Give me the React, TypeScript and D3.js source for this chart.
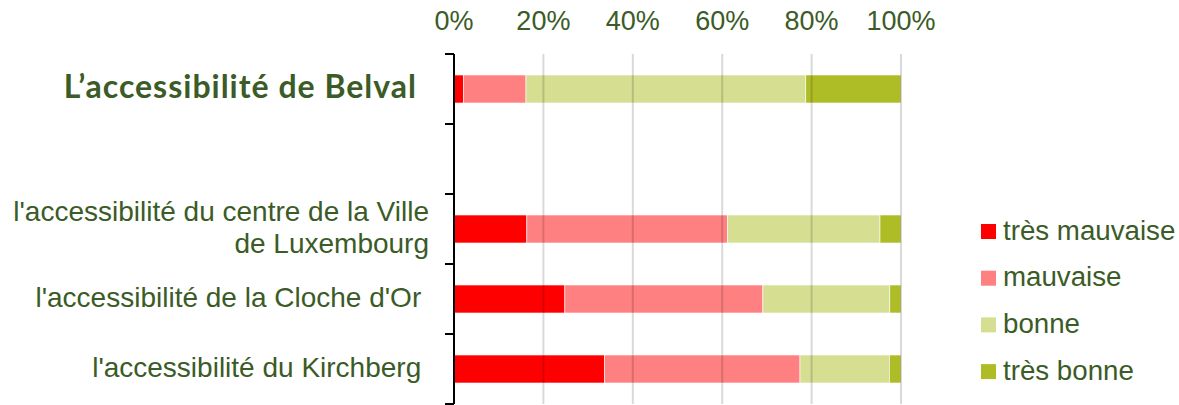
import React from "react";
import * as d3 from "d3";

const categories = ["Belval", "blank", "Centre", "Cloche", "Kirchberg"];
const categoryLabels: string[][] = [
  ["L’accessibilité de Belval"],
  [],
  ["l'accessibilité du centre de la Ville", "de Luxembourg"],
  ["l'accessibilité de la Cloche d'Or "],
  ["l'accessibilité du Kirchberg "],
];
const seriesNames = ["très mauvaise", "mauvaise", "bonne", "très bonne"];
const tresMauvaise = [2.1, 0, 16.3, 24.8, 33.7];
const mauvaise = [14.0, 0, 44.9, 44.3, 43.7];
const bonne = [62.6, 0, 34.1, 28.4, 20.0];
const tresBonne = [21.3, 0, 4.7, 2.5, 2.6];
const xTicks = [0, 20, 40, 60, 80, 100];
const colors = ["#FF0000", "#FF8080", "#D6DE92", "#AEBD26"];

const W = 1179;
const H = 405;
const TEXT = "#3B5B27";
const FONT = "'Liberation Sans', Arial, sans-serif";

export default function App() {
  const x = d3.scaleLinear().domain([0, 100]).range([454, 901]);
  const y = d3
    .scaleBand<string>()
    .domain(categories)
    .range([54, 404])
    .paddingInner(0.6)
    .paddingOuter(0.3);
  const step = y.step();
  const top = 54;

  const rows = categories.map((c, i) => ({
    cat: c,
    [seriesNames[0]]: tresMauvaise[i],
    [seriesNames[1]]: mauvaise[i],
    [seriesNames[2]]: bonne[i],
    [seriesNames[3]]: tresBonne[i],
  }));
  const stacked = d3.stack<any>().keys(seriesNames)(rows);

  const boundaries = d3.range(categories.length + 1).map((i) => top + i * step);

  return (
    <svg
      width={W}
      height={H}
      style={{ position: "absolute", left: 0, top: 0, background: "#fff" }}
      fontFamily={FONT}
    >
      {/* bars */}
      {stacked.map((s, si) => (
        <g key={s.key} fill={colors[si]}>
          {s.map((d, i) =>
            d[1] - d[0] > 0 ? (
              <rect
                key={i}
                x={x(d[0])}
                y={y(categories[i])!}
                width={x(d[1]) - x(d[0])}
                height={y.bandwidth()}
                stroke="#fff"
                strokeWidth={0.6}
              />
            ) : null
          )}
        </g>
      ))}
      {/* gridlines */}
      {xTicks.slice(1).map((t) => (
        <line
          key={t}
          x1={x(t)}
          x2={x(t)}
          y1={top}
          y2={top + step * categories.length}
          stroke="rgba(0,0,0,0.15)"
          strokeWidth={2}
        />
      ))}
      {/* top axis labels */}
      {xTicks.map((t) => (
        <text
          key={t}
          x={x(t)}
          y={29.5}
          textAnchor="middle"
          fontSize={27}
          fill={TEXT}
        >
          {t}%
        </text>
      ))}
      {/* left axis */}
      <line x1={x(0)} x2={x(0)} y1={top} y2={top + step * categories.length} stroke="#000" strokeWidth={2} />
      {boundaries.map((b, i) => (
        <line key={i} x1={x(0) - 9} x2={x(0)} y1={b} y2={b} stroke="#000" strokeWidth={2} />
      ))}
      {/* category labels */}
      {categoryLabels.map((lines, i) => {
        const cy = y(categories[i])! + y.bandwidth() / 2;
        if (i === 0) {
          return (
            <text
              key={i}
              x={417}
              y={cy + 9}
              textAnchor="end"
              fontFamily="Lato, 'Open Sans', sans-serif"
              fontWeight={700}
              fontSize={32}
              letterSpacing={1}
              fill={TEXT}
            >
              {lines[0]}
            </text>
          );
        }
        const lh = 32.3;
        const base = cy + 8 - ((lines.length - 1) * lh) / 2;
        return (
          <text key={i} textAnchor="end" fontSize={28} fill={TEXT} xmlSpace="preserve">
            {lines.map((l, j) => (
              <tspan key={j} x={429} y={base + j * lh}>
                {l}
              </tspan>
            ))}
          </text>
        );
      })}
      {/* legend */}
      {seriesNames.map((n, i) => {
        const ly = 224 + i * 46.7;
        return (
          <g key={n}>
            <rect x={981} y={ly} width={15} height={15} fill={colors[i]} />
            <text x={1003} y={ly + 15.5} fontSize={27.7} fill={TEXT}>
              {n}
            </text>
          </g>
        );
      })}
    </svg>
  );
}
